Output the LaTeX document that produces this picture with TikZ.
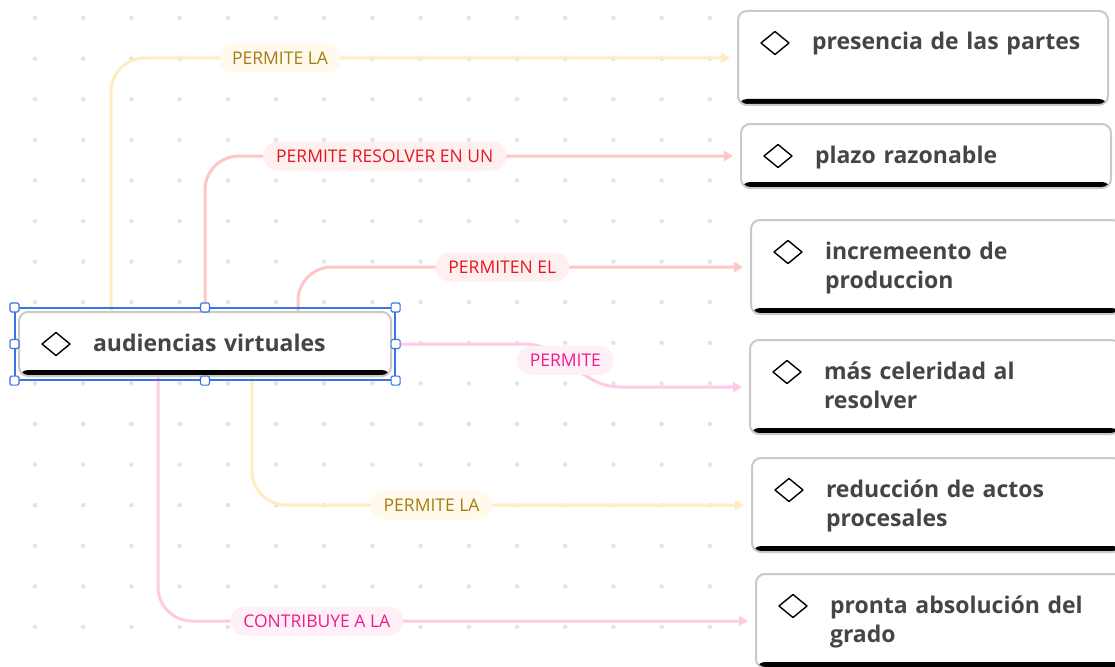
\documentclass[tikz,border=0pt]{standalone}
\usepackage{fontspec}
\setmainfont{Open Sans}
\usetikzlibrary{arrows.meta,calc,fit}
\definecolor{dotgray}{HTML}{E3E3E8}
\definecolor{boxgray}{HTML}{C9C9C9}
\definecolor{txtgray}{HTML}{454545}
\definecolor{selblue}{HTML}{3B74E6}
\definecolor{ylw}{HTML}{FFEDC2}
\definecolor{ylwtxt}{HTML}{A67C14}
\definecolor{ylwbg}{HTML}{FFFAEC}
\definecolor{rd}{HTML}{FFC6C6}
\definecolor{rdtxt}{HTML}{E5161F}
\definecolor{rdbg}{HTML}{FFF0F0}
\definecolor{pk}{HTML}{FFCAE6}
\definecolor{pktxt}{HTML}{F01C8C}
\definecolor{pkbg}{HTML}{FFF0F8}

\begin{document}
\begin{tikzpicture}[x=1pt,y=-1pt,
	topic/.style={draw=boxgray, line width=2pt, fill=white, rounded corners=9pt,
		anchor=north west, inner xsep=10pt, inner ysep=22pt, text width=350pt,
		text height=17pt, text depth=33pt, align=left, text=txtgray,
		font=\fontsize{23}{29}\selectfont\bfseries,
		execute at begin node={\leftskip=64pt\relax},
		path picture={\fill[black] (path picture bounding box.south west)
			rectangle ([yshift=6pt]path picture bounding box.south east);}},
	icon/.style={draw=black, line width=1.4pt, line join=round},
	link/.style={line width=3pt, rounded corners=34pt, shorten >=7pt,
		-{Triangle[length=9pt,width=10pt]}},
	ylink/.style={link, draw=ylw},
	rlink/.style={link, draw=rd},
	plink/.style={link, draw=pk},
	lbl/.style={rounded corners=14.5pt, minimum height=29pt, inner xsep=13pt,
		inner ysep=0pt, font=\fontsize{17.5}{20}\selectfont},
	ylbl/.style={lbl, fill=ylwbg, text=ylwtxt},
	rlbl/.style={lbl, fill=rdbg, text=rdtxt},
	plbl/.style={lbl, fill=pkbg, text=pktxt},
	selbox/.style={draw=selblue, line width=1.2pt, inner sep=3pt},
	handle/.style={draw=selblue, fill=white, line width=1.2pt, minimum size=9pt,
		inner sep=0pt, rounded corners=1.5pt}]
	\useasboundingbox (0,0) rectangle (1115,666);
	\fill[white] (0,0) rectangle (1115,666);
	\foreach \i in {0,...,14}
		\foreach \j in {0,...,15}
			\fill[dotgray] (35+48.2*\i, 18+40.6*\j) circle (2.3pt);
%
	\node[topic, text width=352pt, text depth=3pt] (av) at (18,311) {audiencias virtuales};
	\node[topic] (pres) at (737,10) {presencia de las partes};
	\node[topic, text depth=3pt] (plazo) at (740,123) {plazo razonable};
	\node[topic] (incr) at (750,219) {incremeento de\\produccion};
	\node[topic] (cel) at (749,339) {más celeridad al\\resolver};
	\node[topic] (red) at (751,457) {reducción de actos\\procesales};
	\node[topic] (pronta) at (755,573) {pronta absolución del\\grado};
	\foreach \b in {av,pres,plazo,incr,cel,red,pronta}
		\draw[icon] ($(\b.north west)+(24,33)$) -- ++(14,-11.5) -- ++(14,11.5) -- ++(-14,11.5) -- cycle;
%
	\draw[ylink] ($(av.north)+(-94,0)$) |- node[ylbl, pos=0.635] (l1) {PERMITE LA} (pres.west);
	\draw[rlink] (av.north) |- node[rlbl, pos=0.668] (l2) {PERMITE RESOLVER EN UN} (plazo.west);
	\draw[rlink] ($(av.north)+(93,0)$) |- node[rlbl, pos=0.726] (l3) {PERMITEN EL} (incr.west);
	\draw[plink, sharp corners] (av.east) -- ++(132,0) to[out=0,in=180] node[plbl, pos=0.42] (l4) {PERMITE} ++(96,43) -- (cel.west);
	\draw[ylink] ($(av.south)+(47,0)$) |- node[ylbl, pos=0.68] (l5) {PERMITE LA} (red.west);
	\draw[plink] ($(av.south)+(-47,0)$) |- node[plbl, pos=0.633] (l6) {CONTRIBUYE A LA} (pronta.west);
%
	\node[selbox, fit=(av)] (sel) {};
	\foreach \a/\n in {north west/1, north/2, north east/3, east/4, south east/5, south/6, south west/7, west/8}
		\node[handle] (h\n) at (sel.\a) {};
\end{tikzpicture}
\end{document}
